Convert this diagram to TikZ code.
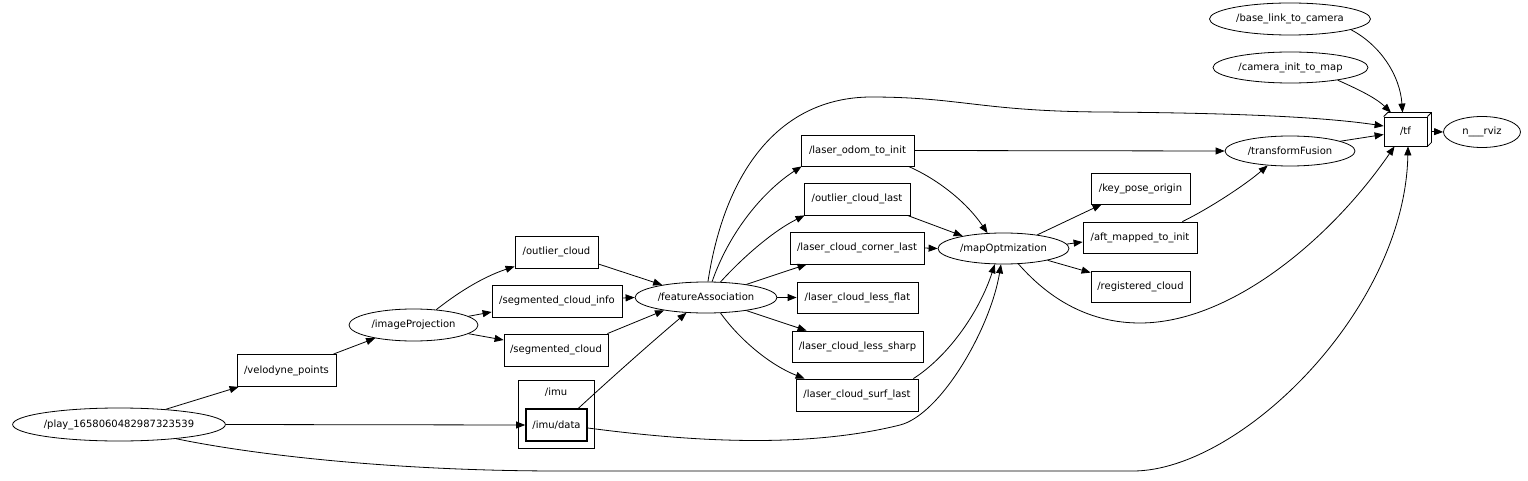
\documentclass[tikz,border=0pt]{standalone}
\usepackage{fontspec}
\setmainfont{DejaVu Sans}
\usetikzlibrary{shapes.geometric,arrows.meta,calc}
\begin{document}
\begin{tikzpicture}[x=1pt,y=-1pt,
  font=\fontsize{10pt}{12pt}\selectfont,
  box/.style={draw,rectangle,minimum height=32pt,inner sep=0pt,line width=0.8pt,fill=white},
  ell/.style={draw,ellipse,minimum height=32pt,inner sep=0pt,line width=0.8pt,fill=white},
  conn/.style={-{Triangle[length=9pt,width=7pt]},line width=0.8pt}]
\useasboundingbox (0,0) rectangle (1528,481);

% cluster
\node[draw,line width=0.8pt,minimum width=76pt,minimum height=68pt,inner sep=0pt] (imucl) at (556,414) {};
\node[inner sep=0pt] (imulabel) at (556,392) {/imu};

% ellipses
\node[ell,minimum width=210pt,minimum height=33pt] (play) at (119,424.5) {/play\_1658060482987323539};
\node[ell,minimum width=129pt] (imgP) at (413.5,325) {/imageProjection};
\node[ell,minimum width=142pt,minimum height=31pt] (fA) at (706,297.5) {/featureAssociation};
\node[ell,minimum width=131pt,minimum height=31pt] (mapO) at (1003.5,248.5) {/mapOptmization};
\node[ell,minimum width=130pt,minimum height=30pt] (tF) at (1290,151) {/transformFusion};
\node[ell,minimum width=161pt] (base) at (1290,19) {/base\_link\_to\_camera};
\node[ell,minimum width=155pt,minimum height=31pt] (cam) at (1290.5,67.5) {/camera\_init\_to\_map};
\node[ell,minimum width=77pt,minimum height=31pt] (rviz) at (1482,132) {n\_\_\_rviz};

% boxes
\node[box,minimum width=99pt] (velodyne) at (286.5,370.5) {/velodyne\_points};
\node[box,minimum width=83pt] (outlier) at (556.5,252) {/outlier\_cloud};
\node[box,minimum width=130pt] (seginfo) at (557,301) {/segmented\_cloud\_info};
\node[box,minimum width=104pt] (segcloud) at (556,350) {/segmented\_cloud};
\node[box,minimum width=61pt,line width=1.6pt] (imudata) at (556.5,425) {/imu/data};
\node[box,minimum width=113pt,minimum height=31pt] (odom) at (857.5,150.5) {/laser\_odom\_to\_init};
\node[box,minimum width=106pt] (ocl) at (857,199) {/outlier\_cloud\_last};
\node[box,minimum width=134pt] (corner) at (857,248) {/laser\_cloud\_corner\_last};
\node[box,minimum width=121pt,minimum height=31pt] (flat) at (857.5,297.5) {/laser\_cloud\_less\_flat};
\node[box,minimum width=131pt,minimum height=31pt] (sharp) at (857.5,346.5) {/laser\_cloud\_less\_sharp};
\node[box,minimum width=122pt] (surf) at (857,395) {/laser\_cloud\_surf\_last};
\node[box,minimum width=99pt,minimum height=31pt] (keypose) at (1140.5,188.5) {/key\_pose\_origin};
\node[box,minimum width=114pt,minimum height=31pt] (aft) at (1140,237.5) {/aft\_mapped\_to\_init};
\node[box,minimum width=99pt,minimum height=31pt] (reg) at (1140.5,286.5) {/registered\_cloud};

% tf 3D box
\node[box,minimum width=43pt,minimum height=29pt] (tf) at (1405.5,131.5) {/tf};
\draw[line width=0.8pt] (tf.north west) -- ([xshift=4pt,yshift=4pt]tf.north west)
  -- ([xshift=4pt,yshift=4pt]tf.north east) -- ([xshift=4pt,yshift=4pt]tf.south east) -- (tf.south east);
\draw[line width=0.8pt] (tf.north east) -- ([xshift=4pt,yshift=4pt]tf.north east);

% edges from play
\draw[conn] (play.18) -- ([xshift=2pt]velodyne.south west);
\draw[conn] (play.east) -- (imudata.west);
\draw[conn] (play.-14) .. controls (260,456) and (400,471) .. (560,471) -- (1133,471)
  .. controls (1240,471) and (1405,310) .. ([xshift=2.5pt]tf.south);

% imageProjection
\draw[conn] ([xshift=-3pt]velodyne.north east) -- (imgP.199);
\draw[conn] (imgP.34) .. controls (455,295) and (480,278) .. ([yshift=2pt]outlier.south west);
\draw[conn] (imgP.9) -- ([yshift=-11pt]seginfo.west);
\draw[conn] (imgP.-9) -- ([yshift=10pt]segcloud.west);

% into featureAssociation
\draw[conn] ([yshift=-12pt]outlier.east) -- (fA.164);
\draw[conn] ([yshift=3pt]seginfo.east) -- (fA.west);
\draw[conn] ([xshift=-1pt]segcloud.north east) -- (fA.197);
\draw[conn] ([xshift=22pt]imudata.north) .. controls (620,370) and (660,335) .. (fA.218);

% out of featureAssociation
\draw[conn] (fA.83) .. controls (725,170) and (780,98) .. (870,97)
  .. controls (960,97) and (980,111) .. (1100,112)
  .. controls (1250,113) and (1330,118) .. ([yshift=5.5pt]tf.west);
\draw[conn] (fA.69) .. controls (730,230) and (765,190) .. ([xshift=1pt]odom.south west);
\draw[conn] (fA.47) .. controls (745,255) and (775,230) .. ([xshift=1pt]ocl.south west);
\draw[conn] (fA.18) -- ([xshift=17pt]corner.south west);
\draw[conn] (fA.east) -- (flat.west);
\draw[conn] (fA.-18) -- ([xshift=15pt]sharp.north west);
\draw[conn] (fA.-47) .. controls (740,340) and (770,365) .. ([xshift=9pt]surf.north west);

% into mapOptmization / transformFusion
\draw[conn] (odom.east) -- (tF.west);
\draw[conn] ([xshift=-6pt]odom.south east) .. controls (935,178) and (965,200) .. (mapO.136);
\draw[conn] ([xshift=-3pt]ocl.south east) -- (mapO.163);
\draw[conn] (corner.east) -- (mapO.west);
\draw[conn] ([xshift=-5pt]surf.north east) .. controls (950,355) and (980,310) .. (mapO.241);
\draw[conn] ([yshift=-3pt]imudata.east) .. controls (680,440) and (800,450) .. (900,425)
  .. controls (940,415) and (990,330) .. (mapO.261);

% out of mapOptmization
\draw[conn] (mapO.22) -- ([xshift=11pt]keypose.south west);
\draw[conn] (mapO.4) -- ([yshift=-4.5pt]aft.west);
\draw[conn] (mapO.-15) -- ([yshift=-2pt]reg.north west);
\draw[conn] (mapO.-46) .. controls (1050,300) and (1090,323) .. (1140,323)
  .. controls (1230,323) and (1330,240) .. ([xshift=-11pt]tf.south);

% right part
\draw[conn] ([xshift=-15pt]aft.north east) .. controls (1210,208) and (1245,185) .. (tF.213);
\draw[conn] (tF.11) -- ([yshift=-3pt]tf.west);
\draw[conn] (base.-10) .. controls (1380,45) and (1400,75) .. ([xshift=-3pt,yshift=4pt]tf.north);
\draw[conn] (cam.-15) .. controls (1355,88) and (1375,97) .. ([xshift=-14.5pt,yshift=4pt]tf.north);
\draw[conn] ([xshift=4pt]tf.east) -- (rviz.west);
\end{tikzpicture}
\end{document}
